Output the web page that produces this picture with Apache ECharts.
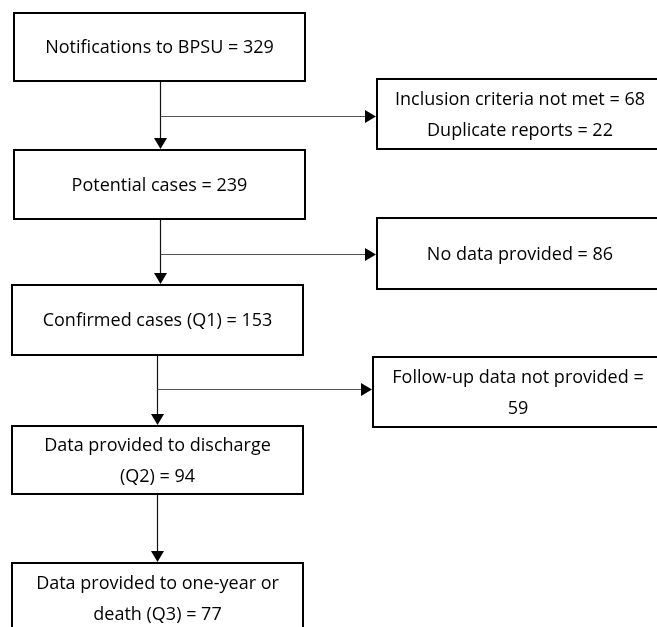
<!DOCTYPE html>
<html>
<head>
<meta charset="utf-8">
<script src="https://cdn.jsdelivr.net/npm/echarts@6/dist/echarts.min.js"></script>
<style>html,body{margin:0;padding:0;background:#fff}#c{width:657px;height:627px}</style>
</head>
<body>
<div id="c"></div>
<script>
// ---- content ----
const mainLabels = [
  'Notifications to BPSU = 329',
  'Potential cases = 239',
  'Confirmed cases (Q1) = 153',
  'Data provided to discharge\n(Q2) = 94',
  'Data provided to one-year or\ndeath (Q3) = 77'
];
const sideLabels = [
  'Inclusion criteria not met = 68\nDuplicate reports = 22',
  'No data provided = 86',
  'Follow-up data not provided =\n59'
];
// ---- layout (pixel space of a hidden 657x627 value grid) ----
const mainLeft = [14, 14, 12, 12, 12];
const mainRight = [305, 305, 303, 303, 303];
const mainTop = [13, 150, 285, 426, 563];
const mainBottom = [81, 219, 355, 494, 633];
const sideLeft = [377, 377, 373];
const sideRight = [663, 663, 663];
const sideTop = [79, 218, 357];
const sideBottom = [149, 289, 427];
const branchY = [116.5, 254.5, 389.5];

const FONT = '18px "Open Sans"';

const boxData = [];
mainLabels.forEach((t, i) => boxData.push([mainLeft[i], mainTop[i], mainRight[i], mainBottom[i], 0, i]));
sideLabels.forEach((t, i) => boxData.push([sideLeft[i], sideTop[i], sideRight[i], sideBottom[i], 1, i]));

// connectors: [x0,y0,x1,y1,kind] kind 0 = main vertical, 1 = branch
const connData = [];
for (let i = 0; i < mainLabels.length - 1; i++) {
  const x = Math.round((mainLeft[i] + mainRight[i]) / 2) + 0.5 - (i >= 2 ? 1 : 0);
  connData.push([x, mainBottom[i], x, mainTop[i + 1] - 1, 0]);
  if (i < sideLabels.length) {
    connData.push([x, branchY[i], sideLeft[i] - 1, branchY[i], 1]);
  }
}

const chart = echarts.init(document.getElementById('c'));
chart.setOption({
  animation: false,
  grid: { left: 0, right: 0, top: 0, bottom: 0 },
  xAxis: { type: 'value', min: 0, max: 657, show: false },
  yAxis: { type: 'value', min: 0, max: 627, inverse: true, show: false },
  series: [
    {
      type: 'custom',
      coordinateSystem: 'cartesian2d',
      clip: false,
      data: connData,
      encode: { x: [0, 2], y: [1, 3] },
      renderItem: function (params, api) {
        const p0 = api.coord([api.value(0), api.value(1)]);
        const p1 = api.coord([api.value(2), api.value(3)]);
        const kind = api.value(4);
        const L = 11, hw = 6.5;
        let line, tri;
        if (kind === 0) {
          line = { x1: p0[0], y1: p0[1], x2: p1[0], y2: p1[1] - L + 1 };
          tri = [[p1[0] - hw, p1[1] - L], [p1[0] + hw, p1[1] - L], [p1[0], p1[1]]];
        } else {
          line = { x1: p0[0], y1: p0[1], x2: p1[0] - L + 1, y2: p1[1] };
          tri = [[p1[0] - L, p1[1] - hw], [p1[0] - L, p1[1] + hw], [p1[0], p1[1]]];
        }
        return {
          type: 'group',
          children: [
            { type: 'line', shape: line, style: { stroke: kind === 0 ? '#111' : '#555', lineWidth: 1.2 } },
            { type: 'polygon', shape: { points: tri }, style: { fill: '#000' } }
          ]
        };
      }
    },
    {
      type: 'custom',
      coordinateSystem: 'cartesian2d',
      clip: false,
      data: boxData,
      encode: { x: [0, 2], y: [1, 3] },
      renderItem: function (params, api) {
        const p0 = api.coord([api.value(0), api.value(1)]);
        const p1 = api.coord([api.value(2), api.value(3)]);
        const group = api.value(4), idx = api.value(5);
        const text = group === 0 ? mainLabels[idx] : sideLabels[idx];
        return {
          type: 'group',
          children: [
            { type: 'rect', shape: { x: p0[0], y: p0[1], width: p1[0] - p0[0], height: p1[1] - p0[1] },
              style: { fill: '#fff', stroke: '#000', lineWidth: 2 } },
            { type: 'text', style: { text: text, x: (p0[0] + p1[0]) / 2, y: (p0[1] + p1[1]) / 2 + 1,
              align: 'center', verticalAlign: 'middle', font: FONT, lineHeight: 31, fill: '#000' } }
          ]
        };
      }
    }
  ]
});
</script>
</body>
</html>
